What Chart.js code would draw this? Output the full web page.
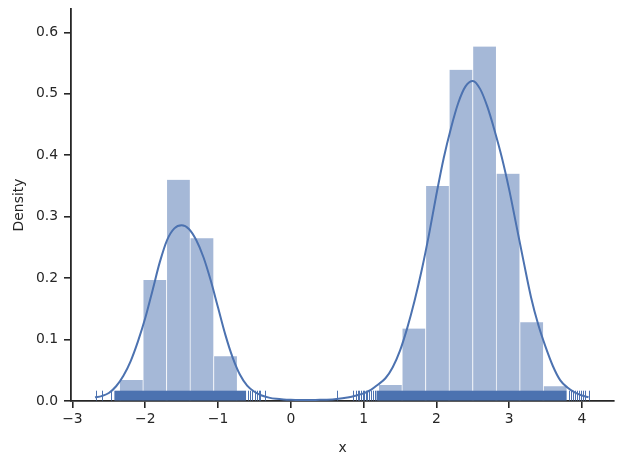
<!DOCTYPE html>
<html>
<head>
<meta charset="utf-8">
<script src="https://cdn.jsdelivr.net/npm/chart.js@4.4.1/dist/chart.umd.min.js"></script>
<style>
  html, body { margin: 0; padding: 0; background: #fff; }
  #wrap { width: 623px; height: 463px; }
</style>
</head>
<body>
<div id="wrap"><canvas id="histChart" width="623" height="463"></canvas></div>
<script>
// histogram bins (centres) and density heights
const binCenters = [-2.191, -1.868, -1.544, -1.221, -0.897,
  1.368, 1.691, 2.015, 2.338, 2.662, 2.985, 3.309, 3.632];
const binDensity = [0.034, 0.197, 0.360, 0.265, 0.073,
  0.026, 0.118, 0.350, 0.539, 0.577, 0.370, 0.128, 0.024];

// kde curve
const kdeX = [-2.69, -2.6, -2.5, -2.4, -2.3, -2.2, -2.1, -2.0, -1.9, -1.8, -1.7, -1.6, -1.5,
  -1.4, -1.3, -1.2, -1.1, -1.0, -0.9, -0.8, -0.7, -0.6, -0.5, -0.4, -0.3, -0.2, -0.1, 0.0,
  0.2, 0.4, 0.6, 0.8, 0.9, 1.0, 1.1, 1.2, 1.3, 1.4, 1.5, 1.6, 1.7, 1.8, 1.9, 2.0, 2.1, 2.2,
  2.3, 2.4, 2.5, 2.6, 2.7, 2.8, 2.9, 3.0, 3.1, 3.2, 3.3, 3.4, 3.5, 3.6, 3.7, 3.8, 3.9, 4.0, 4.09];
const kdeY = [0.006, 0.008, 0.013, 0.024, 0.041, 0.065, 0.097, 0.135, 0.180, 0.226, 0.262, 0.281, 0.286,
  0.280, 0.262, 0.234, 0.196, 0.152, 0.108, 0.071, 0.043, 0.025, 0.015, 0.009, 0.0055, 0.0035, 0.0025, 0.002,
  0.0015, 0.002, 0.003, 0.006, 0.009, 0.0125, 0.018, 0.027, 0.037, 0.055, 0.082, 0.119, 0.163, 0.214, 0.272, 0.336, 0.395, 0.444,
  0.485, 0.512, 0.521, 0.508, 0.479, 0.440, 0.396, 0.344, 0.285, 0.226, 0.169, 0.124, 0.088, 0.057, 0.034, 0.022, 0.014, 0.009, 0.006];

// rug: single ticks where they can be told apart, spans where they merge
const rugTicks = [-2.676, -2.598, -2.474, -0.592, -0.560, -0.529, -0.496, -0.468, -0.441, -0.423, -0.348,
  0.639, 0.859, 0.896, 0.923, 0.941, 0.960, 0.988, 1.005, 1.033, 1.051, 1.078, 1.106, 1.133, 1.161,
  3.817, 3.845, 3.881, 3.908, 3.935, 3.963, 3.990, 4.018, 4.048, 4.100];
const rugSpans = [[-2.424, -0.615], [1.177, 3.787]];

const xTicks = [-3, -2, -1, 0, 1, 2, 3, 4];
const yTicks = [0, 0.1, 0.2, 0.3, 0.4, 0.5, 0.6];
const xRange = [-3.02, 4.44];
const yRange = [0, 0.638];

const blue = "#4c72b0";
const ink = "#262626";
const font = { family: "DejaVu Sans", size: 13.9 };

function minus(v) {
  return String(v).replace("-", "\u2212");
}

const rugPlugin = {
  id: "rug",
  afterDatasetsDraw(chart) {
    const { ctx, chartArea, scales } = chart;
    const h = (chartArea.bottom - chartArea.top) * 0.025;
    const base = chartArea.bottom - 0.5;
    ctx.save();
    ctx.fillStyle = blue;
    ctx.strokeStyle = blue;
    ctx.lineWidth = 1;
    for (const [a, b] of rugSpans) {
      const x0 = scales.x.getPixelForValue(a);
      const x1 = scales.x.getPixelForValue(b);
      ctx.fillRect(x0, base - h, x1 - x0, h);
    }
    for (const v of rugTicks) {
      const px = Math.round(scales.x.getPixelForValue(v)) + 0.5;
      ctx.beginPath();
      ctx.moveTo(px, base);
      ctx.lineTo(px, base - h);
      ctx.stroke();
    }
    ctx.restore();
  }
};

new Chart(document.getElementById("histChart"), {
  type: "bar",
  data: {
    datasets: [
      {
        type: "line",
        label: "kde",
        data: kdeX.map((x, i) => ({ x, y: kdeY[i] })),
        borderColor: blue,
        borderWidth: 2,
        pointRadius: 0,
        fill: false,
        cubicInterpolationMode: "monotone",
        order: 0
      },
      {
        type: "bar",
        label: "hist",
        data: binCenters.map((x, i) => ({ x, y: binDensity[i] })),
        backgroundColor: "rgba(76, 114, 176, 0.5)",
        borderColor: "#ffffff",
        borderWidth: { left: 0.7, right: 0.7, top: 0, bottom: 0 },
        borderSkipped: false,
        barPercentage: 1,
        categoryPercentage: 1,
        order: 1
      }
    ]
  },
  options: {
    responsive: false,
    animation: false,
    devicePixelRatio: 1,
    layout: { padding: { top: 9, right: 9, left: 0, bottom: 0 } },
    plugins: { legend: { display: false }, tooltip: { enabled: false } },
    scales: {
      x: {
        type: "linear",
        min: xRange[0],
        max: xRange[1],
        offset: false,
        afterFit: axis => {
          axis.height = 62;
          axis.paddingLeft = 0;
          axis.paddingRight = 0;
        },
        afterBuildTicks: axis => { axis.ticks = xTicks.map(v => ({ value: v })); },
        grid: { display: true, drawOnChartArea: false, drawTicks: true, tickLength: 7,
          color: ink, lineWidth: 1.6, offset: false },
        border: { display: true, color: ink, width: 1.8 },
        ticks: { color: ink, font, padding: 3, maxRotation: 0, callback: v => minus(v) },
        title: { display: true, text: "x", color: ink, font, padding: { top: 0, bottom: 6 } }
      },
      y: {
        type: "linear",
        min: yRange[0],
        max: yRange[1],
        afterFit: axis => {
          axis.width = 71;
          axis.paddingTop = 0;
          axis.paddingBottom = 0;
        },
        afterBuildTicks: axis => { axis.ticks = yTicks.map(v => ({ value: v })); },
        grid: { display: true, drawOnChartArea: false, drawTicks: true, tickLength: 7,
          color: ink, lineWidth: 1.6 },
        border: { display: true, color: ink, width: 1.8 },
        ticks: { color: ink, font, padding: 6, callback: v => v.toFixed(1) },
        title: { display: true, text: "Density", color: ink, font, padding: { top: 11, bottom: 0 } }
      }
    }
  },
  plugins: [rugPlugin]
});
</script>
</body>
</html>
